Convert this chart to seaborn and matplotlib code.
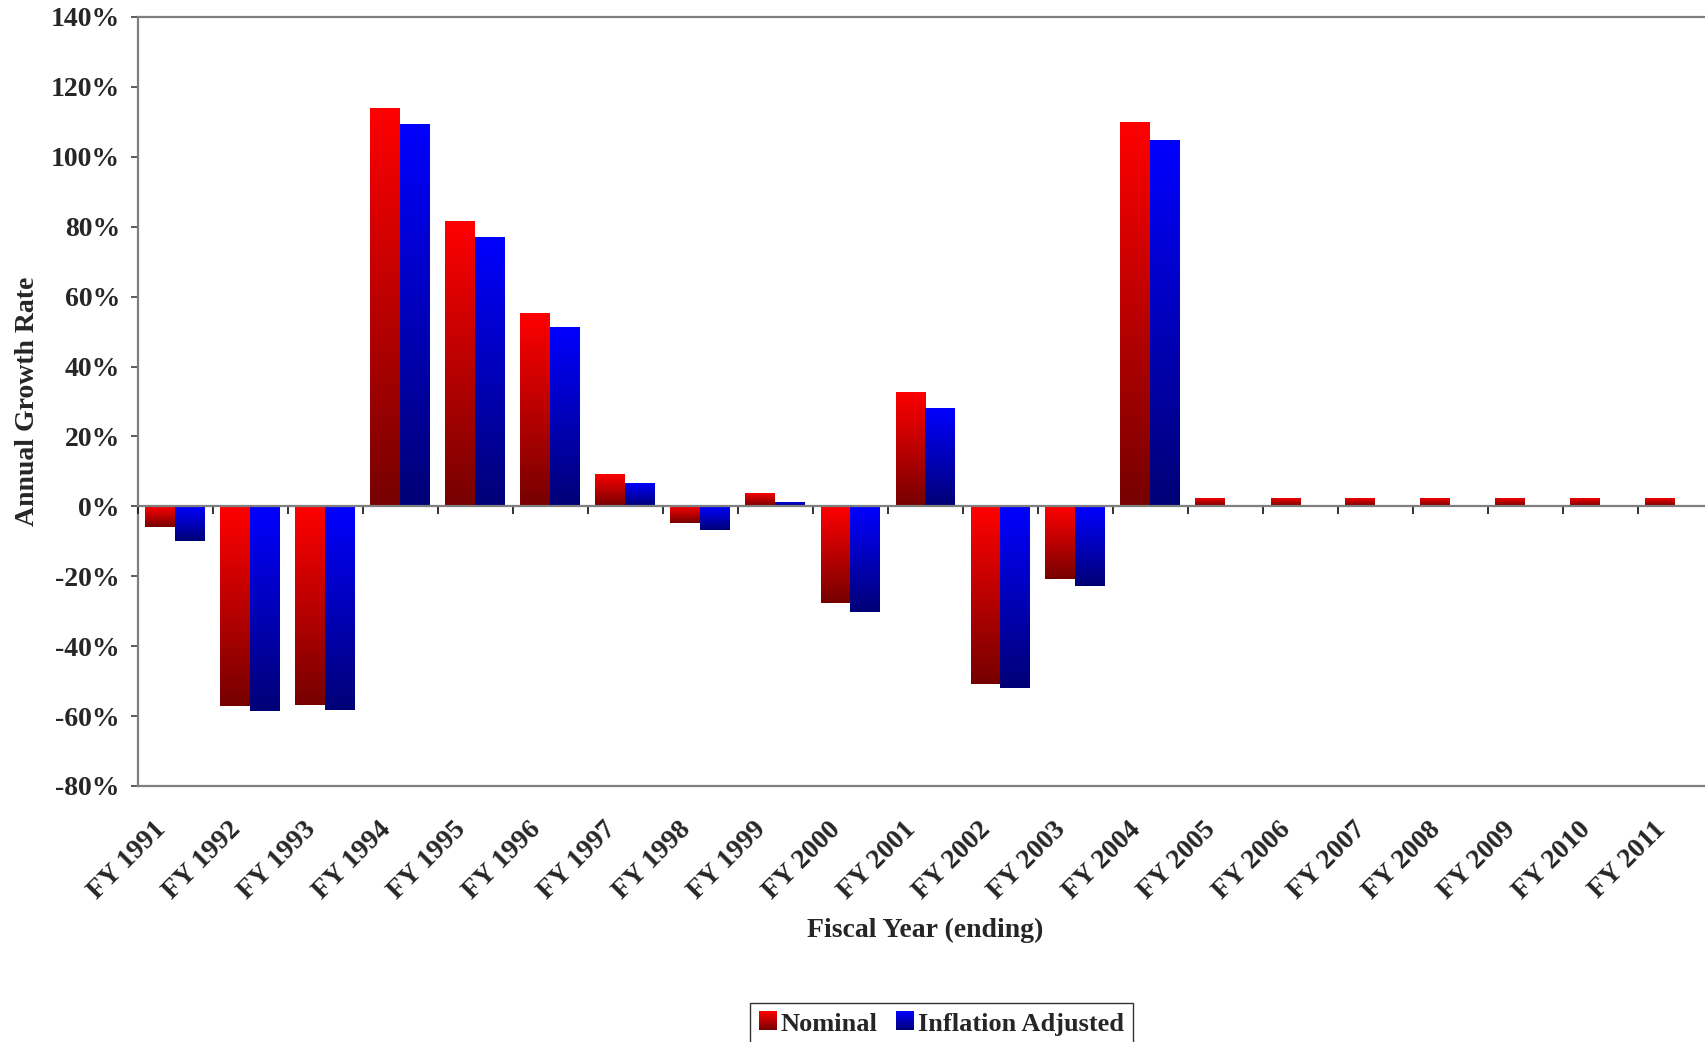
import numpy as np
import pandas as pd
import matplotlib
matplotlib.use("Agg")
import matplotlib.pyplot as plt
import seaborn as sns
from matplotlib.colors import LinearSegmentedColormap
from matplotlib.legend_handler import HandlerBase
from matplotlib.image import BboxImage
from matplotlib.transforms import Bbox, TransformedBbox, ScaledTranslation

# ---------------- data ----------------
years = ["FY 1991", "FY 1992", "FY 1993", "FY 1994", "FY 1995", "FY 1996", "FY 1997",
         "FY 1998", "FY 1999", "FY 2000", "FY 2001", "FY 2002", "FY 2003", "FY 2004",
         "FY 2005", "FY 2006", "FY 2007", "FY 2008", "FY 2009", "FY 2010", "FY 2011"]
nominal = [-6.0, -57.1, -56.9, 114.1, 81.6, 55.3, 9.3, -4.9, 3.9, -27.6, 32.7,
           -50.7, -20.8, 110.1, 2.4, 2.4, 2.4, 2.4, 2.4, 2.4, 2.4]
inflation_adjusted = [-10.0, -58.6, -58.3, 109.3, 77.0, 51.3, 6.8, -6.7, 1.3, -30.1, 28.1,
                      -52.1, -22.8, 104.7, -0.3, -0.3, -0.3, -0.3, -0.3, -0.3, -0.3]
series_names = ["Nominal", "Inflation Adjusted"]
y_ticks = [-80, -60, -40, -20, 0, 20, 40, 60, 80, 100, 120, 140]

df = pd.DataFrame({
    "year": years * 2,
    "rate": nominal + inflation_adjusted,
    "series": [series_names[0]] * len(years) + [series_names[1]] * len(years),
})

# ---------------- style ----------------
sns.set_style("white")
plt.rcParams["font.family"] = ["Liberation Serif", "DejaVu Serif"]
plt.rcParams["font.weight"] = "bold"
FS = 20
FS_LEG = 19

W, H = 1706, 1042
fig = plt.figure(figsize=(W / 100, H / 100), dpi=100)
ax_left, ax_right, ax_top, ax_bottom = 138, 1713, 17, 786
ax = fig.add_axes([ax_left / W, 1 - ax_bottom / H, (ax_right - ax_left) / W, (ax_bottom - ax_top) / H])

palette = {"Nominal": "#ff0000", "Inflation Adjusted": "#0000ff"}
sns.barplot(data=df, x="year", y="rate", hue="series", order=years, hue_order=series_names,
            palette=palette, width=0.8, linewidth=0, saturation=1, ax=ax)

ymin, ymax = -80, 140
ax.set_ylim(ymin, ymax)
ax.set_xlim(-0.5, len(years) - 0.5)

# gradient fill of each bar (bright on top, dark at bottom)
cmaps = {
    "#ff0000": LinearSegmentedColormap.from_list("r", ["#760000", "#ff0000"]),
    "#0000ff": LinearSegmentedColormap.from_list("b", ["#000076", "#0000ff"]),
}
grad = np.linspace(1, 0, 256).reshape(-1, 1)
for bar in list(ax.patches):
    w = bar.get_width()
    h = bar.get_height()
    if w == 0:
        continue
    fc = matplotlib.colors.to_hex(bar.get_facecolor())
    if fc not in cmaps:
        continue
    x0 = bar.get_x()
    y0 = bar.get_y()
    yb, yt = min(y0, y0 + h), max(y0, y0 + h)
    im = ax.imshow(grad, cmap=cmaps[fc], extent=[x0, x0 + w, yb, yt], origin="upper",
                   aspect="auto", interpolation="bilinear", zorder=bar.get_zorder() + 0.1)
    im.set_clip_path(bar)
ax.set_ylim(ymin, ymax)
ax.set_xlim(-0.5, len(years) - 0.5)
ax.set_aspect("auto")

# spines
spine_c = "#7f7f7f"
for s in ["left", "top", "bottom"]:
    ax.spines[s].set_color(spine_c)
    ax.spines[s].set_linewidth(1.6)
ax.spines["right"].set_visible(False)

# y axis
ax.set_yticks(y_ticks)
ax.set_yticklabels([f"{v}%" for v in y_ticks], fontsize=FS, fontweight="bold")
ax.tick_params(axis="y", left=True, length=5, width=1.2, color="#404040", pad=8)

# x labels at bottom, no marks
ax.set_xticks(range(len(years)))
ax.set_xticklabels(years, rotation=45, ha="right", rotation_mode="anchor",
                   fontsize=FS, fontweight="bold")
ax.tick_params(axis="x", bottom=True, length=0, pad=35)
shift = ScaledTranslation(-5 / 100, 0, fig.dpi_scale_trans)
for lbl in ax.get_xticklabels():
    lbl.set_verticalalignment("bottom")
    lbl.set_transform(lbl.get_transform() + shift)

# category axis crossing at zero with boundary ticks
zero_frac = (0 - ymin) / (ymax - ymin)
sec = ax.secondary_xaxis(zero_frac)
sec.set_xticks(np.arange(len(years) + 1) - 0.5)
sec.set_xticklabels([])
sec.tick_params(axis="x", direction="out", length=6, width=1.3, color="#202020")
sec.spines["bottom"].set_color(spine_c)
sec.spines["bottom"].set_linewidth(1.6)
sec.set_zorder(5)

ax.set_xlabel("Fiscal Year (ending)", fontsize=FS, fontweight="bold")
ax.xaxis.set_label_coords(0.5, -0.172)
ax.set_ylabel("Annual Growth Rate", fontsize=FS, fontweight="bold")
ax.yaxis.set_label_coords(-0.062, 0.5)


# legend with gradient swatches
class GradHandler(HandlerBase):
    def __init__(self, cmap):
        super().__init__()
        self.cmap = cmap

    def create_artists(self, legend, orig_handle, xdescent, ydescent, width, height,
                       fontsize, trans):
        bb = Bbox.from_bounds(-xdescent, -ydescent, width, height)
        tbb = TransformedBbox(bb, trans)
        img = BboxImage(tbb, cmap=self.cmap, interpolation="bilinear", origin="upper")
        img.set_data(grad)
        return [img]


handles, labels = ax.get_legend_handles_labels()
if ax.get_legend() is not None:
    ax.get_legend().remove()
hmap = {handles[0]: GradHandler(cmaps["#ff0000"]), handles[1]: GradHandler(cmaps["#0000ff"])}
leg = fig.legend(handles, labels, handler_map=hmap, loc="upper center",
                 bbox_to_anchor=(941.5 / W, 1 - 1003 / H), ncol=2, frameon=True,
                 fancybox=False, edgecolor="#000000", prop={"size": FS_LEG, "weight": "bold"},
                 handlelength=0.68, handleheight=0.68, handletextpad=0.15,
                 columnspacing=0.7, borderpad=0.35, borderaxespad=0)
leg.get_frame().set_linewidth(1.0)

fig.savefig("out.png", dpi=100)
